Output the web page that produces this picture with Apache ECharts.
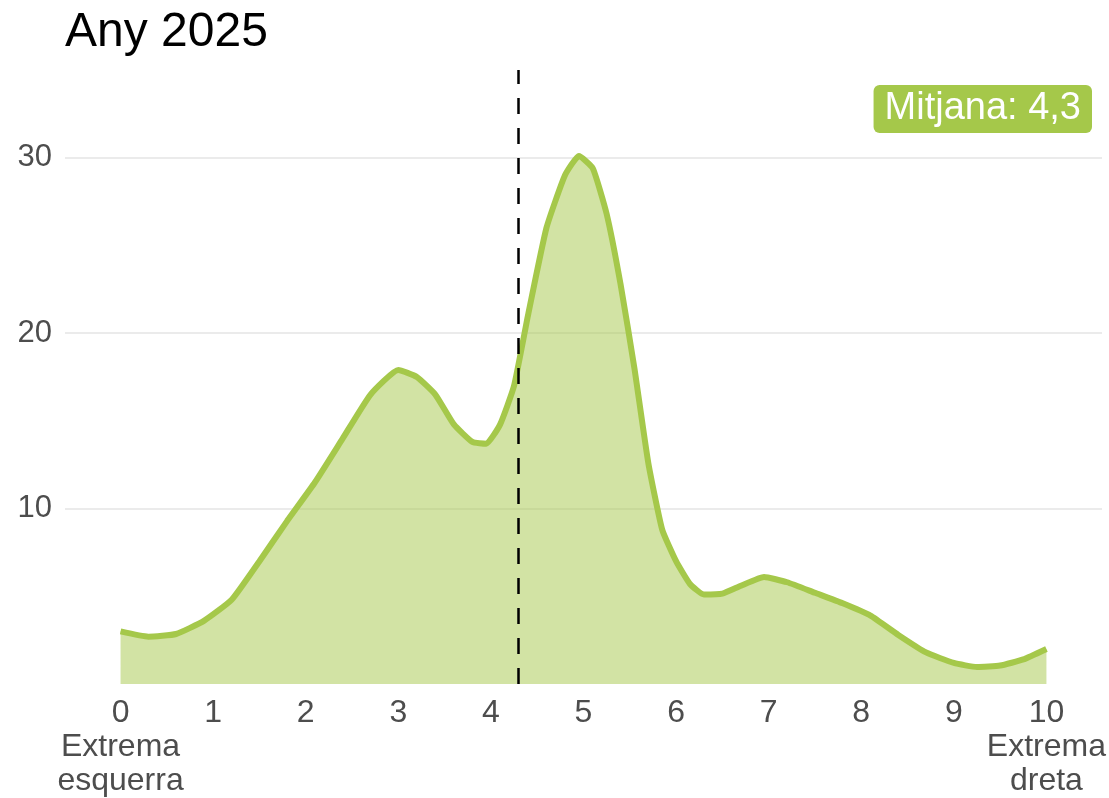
<!DOCTYPE html>
<html>
<head>
<meta charset="utf-8">
<script src="https://cdn.jsdelivr.net/npm/echarts@6/dist/echarts.min.js"></script>
<style>
html,body{margin:0;padding:0;background:#fff;}
#chart{width:1109px;height:798px;}
</style>
</head>
<body>
<div id="chart"></div>
<script>
// ---- data ----
const titleText = "Any 2025";
const xValues = [0, 0.3, 0.6, 0.9, 1.2, 1.5, 1.8, 2.1, 2.4, 2.7, 3.0, 3.2, 3.4, 3.6, 3.8, 3.95, 4.1, 4.25, 4.4, 4.6, 4.8, 4.95, 5.1, 5.25, 5.4, 5.55, 5.7, 5.85, 6.0, 6.15, 6.3, 6.5, 6.7, 6.95, 7.2, 7.5, 7.8, 8.1, 8.4, 8.7, 9.0, 9.25, 9.5, 9.75, 10];
const density = [3.0, 2.7, 2.85, 3.6, 4.8, 7.0, 9.3, 11.5, 14.0, 16.5, 17.9, 17.5, 16.5, 14.8, 13.8, 13.7, 14.8, 17.0, 21.0, 26.0, 29.0, 30.1, 29.4, 26.8, 22.8, 18.0, 12.6, 8.8, 7.0, 5.7, 5.1, 5.15, 5.6, 6.1, 5.8, 5.2, 4.6, 3.9, 2.8, 1.8, 1.2, 0.97, 1.05, 1.4, 2.0];
const tickValues = [0, 1, 2, 3, 4, 5, 6, 7, 8, 9, 10];
const tickLabels = ["0\nExtrema\nesquerra", "1", "2", "3", "4", "5", "6", "7", "8", "9", "10\nExtrema\ndreta"];
const meanValue = 4.3;
const meanLabel = "Mitjana: " + String(meanValue).replace(".", ",");

const green = "#a5c84a";
const font = "Liberation Sans, Arial, sans-serif";

const seriesData = xValues.map((x, i) => [x, density[i]]);

const chart = echarts.init(document.getElementById("chart"), null, {renderer: "canvas"});
chart.setOption({
  animation: false,
  backgroundColor: "#ffffff",
  title: [
    {
      text: titleText,
      left: 65, top: 9, padding: 0,
      textStyle: {fontFamily: font, fontSize: 48, fontWeight: "normal", color: "#000"}
    },
    {
      text: meanLabel,
      right: 17, top: 85,
      padding: [5, 11],
      backgroundColor: green,
      borderRadius: 6,
      textStyle: {fontFamily: font, fontSize: 38, fontWeight: "normal", color: "#fff"}
    }
  ],
  grid: {left: 65, right: 2, top: 70, bottom: 113},
  xAxis: {
    type: "value",
    min: -0.6, max: 10.6,
    axisLine: {show: false},
    axisTick: {show: false},
    splitLine: {show: false},
    axisLabel: {
      customValues: tickValues,
      formatter: (v) => { const i = tickValues.indexOf(Math.round(v)); return i >= 0 ? tickLabels[i] : ""; },
      fontFamily: font, fontSize: 32, color: "#4d4d4d", lineHeight: 34, margin: 12,
      align: "center"
    }
  },
  yAxis: {
    type: "value",
    min: 0, max: 35, interval: 10,
    axisLine: {show: false},
    axisTick: {show: false},
    splitLine: {show: true, showMinLine: false, showMaxLine: false, lineStyle: {color: "#ebebeb", width: 2}},
    axisLabel: {
      showMinLabel: false, showMaxLabel: false,
      fontFamily: font, fontSize: 31, color: "#4d4d4d", margin: 13
    }
  },
  series: [{
    type: "line",
    data: seriesData,
    smooth: 0.15,
    showSymbol: false,
    lineStyle: {color: green, width: 6},
    areaStyle: {color: green, opacity: 0.5},
    markLine: {
      silent: true,
      symbol: "none",
      label: {show: false},
      lineStyle: {color: "#000", type: [16, 14], width: 2.5},
      data: [{xAxis: meanValue}]
    },
    z: 2
  }]
});
</script>
</body>
</html>
